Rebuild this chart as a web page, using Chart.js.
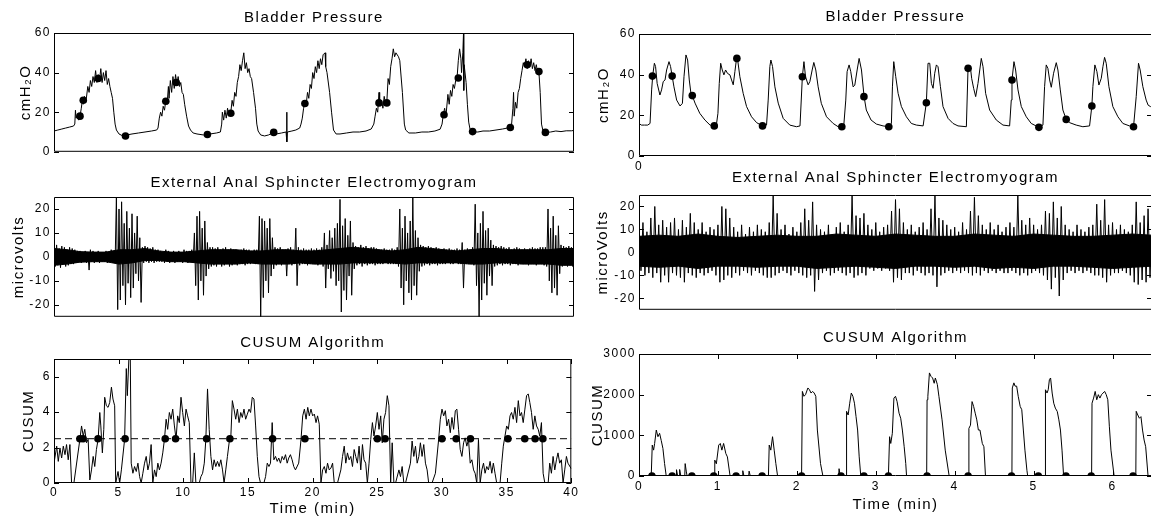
<!DOCTYPE html>
<html>
<head>
<meta charset="utf-8">
<script src="https://cdn.jsdelivr.net/npm/chart.js@4.4.1/dist/chart.umd.min.js"></script>
<style>
  html, body { margin: 0; padding: 0; background: #fff; overflow: hidden; width: 1151px; height: 518px; }
  canvas { position: absolute; }
</style>
</head>
<body>
<script>
// ---- left column: 40 min recording ----
const leftPressure = [[0,10.5],[0.3,11],[0.6,11.5],[0.9,12],[1.2,12.5],[1.5,13],[1.6,14],[1.65,21],[1.7,17],[1.8,19],[1.9,16],[2.0,18],[2.1,22],[2.2,27],[2.25,24],[2.35,28],[2.45,25],[2.6,33],[2.7,30],[2.8,36],[2.9,33],[3.0,38],[3.1,35],[3.2,41],[3.3,35],[3.4,39],[3.5,36],[3.6,42],[3.7,35],[3.8,40],[3.9,36],[4.0,41],[4.1,34],[4.2,37],[4.3,33],[4.4,30],[4.5,27],[4.6,20],[4.7,14],[4.8,11],[5.0,9],[5.3,8],[5.6,8.5],[6.0,9],[6.5,9.5],[7.0,10],[7.5,10.5],[7.9,11],[8.0,12],[8.1,17],[8.2,20],[8.3,18],[8.4,23],[8.5,21],[8.6,26],[8.7,24],[8.8,33],[8.85,27],[8.95,36],[9.05,30],[9.15,38],[9.25,32],[9.35,39],[9.45,34],[9.55,38],[9.65,33],[9.75,35],[9.85,30],[9.95,29],[10.05,24],[10.2,18],[10.35,13],[10.5,11],[10.7,9.5],[11.0,9],[11.5,8.5],[12.0,9],[12.5,9.5],[12.8,10],[12.9,14],[12.95,20],[13.05,16],[13.15,21],[13.25,17],[13.35,22],[13.45,18],[13.6,20],[13.7,26],[13.8,23],[13.9,30],[14.0,28],[14.1,35],[14.2,38],[14.3,44],[14.4,41],[14.5,46],[14.6,50],[14.7,42],[14.8,45],[14.9,40],[15.0,42],[15.1,38],[15.2,37],[15.35,30],[15.5,22],[15.6,14],[15.7,10.5],[15.9,8.5],[16.2,8],[16.5,8.5],[16.8,9.5],[17.1,9],[17.5,9.5],[17.85,10],[17.9,20],[17.92,5],[17.95,10],[18.3,10.5],[18.6,11],[18.9,12],[19.0,14],[19.1,17],[19.2,22],[19.3,25],[19.4,24],[19.5,30],[19.6,27],[19.7,34],[19.8,32],[19.9,40],[20.0,37],[20.1,43],[20.2,40],[20.3,46],[20.4,42],[20.5,47],[20.6,44],[20.7,49],[20.85,50],[20.9,43],[21.0,40],[21.2,30],[21.35,20],[21.5,11],[21.7,9],[22.0,9],[22.5,9.5],[23.0,10],[23.5,10],[24.0,10.5],[24.4,11.5],[24.6,14],[24.7,18],[24.8,22],[24.9,20],[25.0,30],[25.05,24],[25.2,26],[25.3,22],[25.4,28],[25.5,24],[25.6,25],[25.7,37],[25.8,34],[25.9,43],[26.0,47],[26.1,52],[26.2,48],[26.3,50],[26.5,48],[26.6,46],[26.8,30],[26.95,14],[27.05,11],[27.3,9.5],[27.8,9.5],[28.3,10],[28.8,10],[29.3,10.5],[29.7,11.4],[29.85,14],[29.95,19],[30.05,22],[30.15,18],[30.3,29],[30.4,24],[30.5,31],[30.6,28],[30.7,34],[30.8,32],[30.9,36],[31.0,37],[31.1,46],[31.2,52],[31.3,47],[31.35,40],[31.45,50],[31.5,60],[31.52,31],[31.55,44],[31.7,35],[31.8,24],[31.9,15],[32.0,11.5],[32.2,10],[32.6,10],[33.0,10.5],[33.5,10.5],[34.0,11],[34.5,11.5],[35.1,12.3],[35.2,14],[35.3,22],[35.35,30],[35.4,18],[35.5,25],[35.6,22],[35.7,30],[35.8,32],[35.9,37],[36.0,41],[36.1,45],[36.2,43],[36.3,47],[36.4,42],[36.5,46],[36.6,43],[36.7,47],[36.8,42],[36.9,45],[37.0,41],[37.1,44],[37.2,40],[37.3,40.5],[37.4,30],[37.5,14],[37.6,11],[37.8,9.8],[38.2,10],[38.6,10.5],[39.0,10.2],[39.4,10.6],[39.8,10.6],[40,10.8]];
const leftPressureMarks = [[2.0,18],[2.25,26],[3.4,37],[5.5,8],[8.6,25.5],[9.4,35],[11.8,8.7],[13.6,19.5],[16.9,9.8],[19.3,24.4],[25.0,24.7],[25.6,24.7],[30.0,18.7],[31.1,37.3],[32.2,10.2],[35.1,12.3],[36.4,44],[37.3,40.5],[37.8,9.8]];

// EMG: solid baseline band (1 min bins) and spike envelope (0.2 min bins)
const emgLeftCoreStep = 1;
const emgLeftCoreHi = [3.5,3,2.2,2,2,3,3,3.5,2.5,2,2,2.5,3,3,3,2.5,2.5,3,3,2.5,2.5,3,3.5,4,3.5,3,2.5,3,4,3.5,3,2.5,3,3.5,3.5,3,3,3,3,3.5,3.5];
const emgLeftCoreLo = [-3.5,-3,-2.2,-2,-2,-3,-2.5,-1.5,-1.5,-2,-2,-2.5,-3,-3,-3,-2.5,-3,-3,-3,-2.5,-3,-3,-3,-2.5,-2.5,-2.5,-2.5,-3,-2.5,-2.5,-2.5,-2.5,-3,-3,-2.5,-2.5,-3,-3,-3,-3.5,-3.5];
const emgLeftStep = 0.2;
const emgLeftHi = [4,5,3.5,4.5,4,3,4,3.5, 3,2.5,2.5,2,2.5,2,3,2.5,2,2.5,2,2,2.5,2,3,2.5, 25, 20,23,14,19,12,18,10,17, 8, 4,4.5,4,3.5,4,3,3, 2.5,2,3,2.5,2,2.5,2,2.5,2,3,2.5,2.5, 3, 10,17,19,12,15,6, 4,4,3.5,4,3,3.5,4,3,3.5,3,3,2.5,3,3.5,3, 3,2.5,3,3, 17,16,15,12,16,8, 4,3.5,4,3, 3, 3.5,4,3, 12, 4,3,3.5,3,3,3.5, 3,3.5,3,4, 10,5,11,8,12,14,24,13,16,9,15,6, 4.5,4,5,4,4.5,3.5,4,4,3.5,3, 3,3.5,3,3,3.5,3,4, 20,12,17,10,15,25,11,8, 5,4.5,4,4.5,4,3.5,4,3.5,3,3.5,3,3.5,3,3,3.5, 3,6,3,3.5,3,4, 22,10,14,19,11,12,7, 5,4.5,4,4.5,4,3.5,4,3,3.5,4,3.5,3,3.5,3,3.5,4,3.5,3.5,4,4, 4, 20,12,17,9,13, 5,4.5,4,4.5,4,4];
const emgLeftLo = [-4,-3.5,-4.5,-3,-4,-3.5,-3,-3, -2.5,-2,-2.5,-2,-2.5,-5.5,-2,-2.5,-2,-2.5,-2,-2,-2.5,-2,-2.5,-2.5, -22, -18,-12,-20,-11,-17,-13,-7,-10, -19, -2.5,-2,-2.5,-2,-2.5,-2,-2, -2,-2.5,-2,-2.5,-2,-2.5,-2,-2,-2.5,-2,-2.5,-2, -2.5, -12,-18,-10,-16,-8,-5, -4,-3.5,-4,-3,-4,-3.5,-3,-4,-3.5,-3,-3.5,-3,-3,-3.5,-3, -3,-2.5,-3,-3, -25,-17,-10,-15,-8,-5, -3.5,-3,-3.5,-3, -8, -3,-3.5,-3, -12, -3.5,-3,-3,-3.5,-3,-3, -3,-3.5,-3,-4, -13,-5,-9,-6,-12,-10,-23,-14,-18,-8,-16,-5, -3.5,-3,-4,-3,-3.5,-3,-3,-3.5,-3,-3, -3,-2.5,-3,-3,-3,-3,-4, -13,-20,-10,-15,-18,-12,-16,-6, -4,-3.5,-3,-3.5,-3,-3,-3.5,-3,-3,-3,-2.5,-3,-3,-2.5,-3, -3,-13,-3,-3,-3,-3.5, -12,-25,-18,-11,-16,-8,-12, -4,-3.5,-3,-3.5,-3,-3,-3.5,-3,-3,-3.5,-3,-3,-3,-3.5,-3,-3,-3.5,-3,-3,-3.5, -4, -10,-15,-13,-16,-7, -4,-3.5,-4,-3.5,-4,-3.5];

const leftCusum = [[0,1.12],[0.21,2.08],[0.33,1.22],[0.46,1.98],[0.59,1.41],[0.72,2.08],[0.85,1.6],[0.97,2.17],[1.10,1.31],[1.23,2.17],[1.36,0],[1.54,0],[2.0,2.46],[2.13,3.22],[2.26,2.65],[2.38,3.03],[2.51,2.27],[2.64,2.46],[2.77,0.17],[2.9,0.74],[3.03,1.5],[3.15,0.93],[3.28,1.89],[3.41,2.46],[3.54,3.98],[3.62,3.22],[3.74,1.7],[3.85,3.03],[3.92,4.84],[4.05,4.36],[4.18,4.27],[4.31,4.55],[4.44,5.41],[4.56,4.74],[4.69,4.36],[4.77,0],[4.95,0.65],[5.08,0],[5.21,0.74],[5.46,2.46],[5.59,6.46],[5.67,4.93],[5.79,7.03],[5.9,7.03],[5.97,1.12],[6.1,0.55],[6.23,0.93],[6.36,0.65],[6.49,1.12],[6.62,0.36],[6.74,0],[6.87,0.55],[7.0,1.12],[7.13,1.5],[7.26,0.74],[7.38,1.12],[7.51,2.17],[7.64,0],[7.77,0.74],[7.9,0.36],[8.03,1.12],[8.15,0.74],[8.28,1.12],[8.41,1.7],[8.54,2.46],[8.67,3.6],[8.79,3.03],[8.92,3.98],[9.05,3.6],[9.18,4.17],[9.31,3.22],[9.44,2.46],[9.56,3.79],[9.69,3.41],[9.82,4.84],[9.95,3.98],[10.08,3.22],[10.21,4.17],[10.33,3.79],[10.46,3.41],[10.59,0],[10.72,0],[10.85,1.7],[10.97,0],[11.23,0],[11.36,0.36],[11.49,0.55],[11.62,1.12],[11.74,2.46],[11.87,5.31],[12.0,3.03],[12.13,1.5],[12.26,0.74],[12.38,1.31],[12.51,0.93],[12.64,1.22],[12.77,0.93],[12.9,1.31],[13.03,0.74],[13.15,0],[13.28,0.74],[13.41,1.5],[13.54,2.27],[13.67,2.55],[13.79,4.65],[13.92,4.17],[14.05,3.6],[14.18,4.17],[14.31,3.41],[14.44,3.98],[14.56,3.7],[14.69,4.17],[14.82,3.6],[14.95,3.89],[15.08,4.17],[15.2,3.98],[15.33,4.84],[15.46,4.74],[15.59,3.22],[15.72,1.5],[15.85,0.36],[15.97,0],[16.23,0],[16.36,0.36],[16.49,1.12],[16.62,0.93],[16.74,1.12],[16.87,3.41],[17.0,1.31],[17.13,1.5],[17.26,1.22],[17.38,1.41],[17.51,1.12],[17.64,1.5],[17.77,1.31],[17.9,1.6],[18.03,1.12],[18.15,1.41],[18.28,1.6],[18.41,1.31],[18.54,0.93],[18.67,0.74],[18.92,1.12],[19.1,2.46],[19.23,3.79],[19.36,4.17],[19.49,3.6],[19.62,4.27],[19.74,3.79],[19.87,4.17],[20.0,3.79],[20.13,3.89],[20.26,3.41],[20.38,3.79],[20.51,3.32],[20.64,0],[20.77,0.74],[20.9,0.93],[21.03,0.55],[21.15,1.12],[21.28,0.74],[21.41,0.84],[21.54,1.12],[21.67,0],[21.92,0],[22.18,0.74],[22.31,1.5],[22.44,2.08],[22.56,1.12],[22.69,1.7],[22.82,1.31],[22.95,1.5],[23.08,0.93],[23.21,1.89],[23.33,1.5],[23.46,1.12],[23.59,2.08],[23.72,0.74],[23.85,2.17],[23.97,1.31],[24.1,1.12],[24.23,0],[24.36,1.12],[24.49,2.46],[24.62,3.41],[24.74,2.65],[24.87,3.22],[25.0,3.98],[25.13,3.03],[25.26,3.79],[25.38,2.27],[25.51,3.6],[25.64,3.98],[25.77,4.93],[25.9,4.36],[26.03,0],[26.15,2.27],[26.28,0],[26.41,0],[26.67,0.74],[26.79,0.36],[26.92,0.93],[27.05,0],[27.18,0],[27.56,1.12],[27.69,2.37],[27.82,1.5],[27.95,2.08],[28.08,1.12],[28.21,1.5],[28.33,2.27],[28.46,1.5],[28.59,2.17],[28.72,1.12],[28.85,0.74],[28.97,0],[29.23,0],[29.49,0.55],[29.74,2.46],[29.87,3.6],[30.0,4.17],[30.13,3.79],[30.26,4.08],[30.38,3.22],[30.51,3.6],[30.64,2.84],[30.77,3.7],[30.9,3.03],[31.03,4.08],[31.15,4.17],[31.28,3.03],[31.41,1.89],[31.54,1.5],[31.67,2.27],[31.79,2.55],[31.92,2.08],[32.05,2.46],[32.18,1.12],[32.31,1.31],[32.44,0.74],[32.56,0.55],[32.69,0],[32.82,2.46],[32.95,0],[33.08,0.74],[33.21,1.12],[33.33,0.55],[33.46,0.93],[33.59,0.74],[33.72,1.22],[33.85,0.55],[33.97,1.12],[34.1,0.55],[34.23,0],[34.49,0],[34.62,1.12],[34.74,2.08],[34.87,2.65],[35.0,3.22],[35.13,3.03],[35.26,3.79],[35.38,3.98],[35.51,3.6],[35.64,4.27],[35.77,3.41],[35.9,4.65],[36.03,3.79],[36.15,3.98],[36.28,3.41],[36.41,4.17],[36.54,4.93],[36.67,5.03],[36.79,4.55],[36.92,3.98],[37.05,3.03],[37.18,3.79],[37.31,3.22],[37.44,3.03],[37.56,2.65],[37.69,3.41],[37.82,0.55],[37.95,0],[38.21,0],[38.33,1.12],[38.46,0.55],[38.59,1.5],[38.72,0.74],[38.85,1.31],[38.97,1.7],[39.1,1.12],[39.23,1.31],[39.36,0],[39.49,0.74],[39.62,1.5],[39.74,1.12],[40,0.8]];
const leftCusumMarkT = [2.0, 2.25, 3.4, 5.5, 8.6, 9.4, 11.8, 13.6, 16.9, 19.4, 25.0, 25.6, 30.0, 31.1, 32.2, 35.1, 36.4, 37.2, 37.8];
const cusumThreshold = 2.5;

// ---- right column: 6.5 min recording ----
const rightPressure = [[0,16],[0.03,15.2],[0.07,15.2],[0.11,15.2],[0.14,16],[0.16,32.5],[0.175,40],[0.195,45.6],[0.21,44],[0.23,35.7],[0.265,30],[0.286,32.5],[0.307,36.6],[0.33,37.4],[0.35,42.3],[0.38,46.4],[0.40,44],[0.42,39.3],[0.443,34],[0.477,27.5],[0.52,24.6],[0.55,25.9],[0.57,39],[0.595,49.7],[0.616,47.2],[0.637,37.4],[0.658,30.8],[0.675,29.7],[0.71,26],[0.77,21],[0.835,17.7],[0.9,15.2],[0.954,14.8],[0.98,15.2],[1.0,21],[1.017,35.7],[1.035,45.6],[1.055,42.3],[1.076,39.9],[1.097,42.3],[1.122,40.6],[1.152,39.9],[1.173,37.4],[1.194,35],[1.215,41.5],[1.236,48],[1.245,48.8],[1.278,39],[1.32,30.8],[1.363,24.3],[1.426,19.3],[1.49,16.4],[1.565,14.8],[1.616,15.2],[1.637,27.5],[1.658,44],[1.671,47.2],[1.692,44],[1.722,34],[1.764,26],[1.827,18.5],[1.911,15.2],[1.996,14.4],[2.04,14.8],[2.07,39],[2.09,46.4],[2.11,39],[2.143,35],[2.165,36.6],[2.194,42.3],[2.215,46],[2.24,42.3],[2.27,34],[2.31,25.9],[2.376,19.3],[2.46,16],[2.523,14.4],[2.565,14.4],[2.595,15.2],[2.62,27.5],[2.637,41.5],[2.662,44.8],[2.683,41.5],[2.713,34],[2.734,34.8],[2.764,42.3],[2.789,48],[2.819,42.3],[2.852,29.2],[2.88,22.6],[2.94,17.7],[3.008,15.7],[3.093,14.8],[3.165,14.4],[3.198,16],[3.211,34],[3.228,46.4],[3.253,39],[3.283,30.8],[3.325,24.3],[3.388,19.3],[3.451,16],[3.515,15.2],[3.6,14.8],[3.641,26.2],[3.662,45.6],[3.684,45.6],[3.705,35.7],[3.726,33.3],[3.747,40.7],[3.768,44.8],[3.789,43.9],[3.819,34.1],[3.852,24.3],[3.916,18.5],[3.979,16],[4.042,14.8],[4.148,14.4],[4.169,43.1],[4.198,43.9],[4.215,38.2],[4.24,33.3],[4.266,29.2],[4.295,35.7],[4.337,48],[4.359,43.9],[4.392,30.8],[4.443,22.6],[4.527,17.7],[4.612,15.2],[4.696,14.8],[4.717,27.5],[4.726,37.4],[4.751,46.4],[4.772,42.3],[4.802,32.5],[4.844,24.3],[4.907,19.3],[4.97,16],[5.067,14.1],[5.118,15.2],[5.139,34.1],[5.16,44.8],[5.181,43.1],[5.203,37.4],[5.224,33.8],[5.253,40.7],[5.287,45.9],[5.308,42.3],[5.338,32.5],[5.371,22.6],[5.413,18],[5.456,16.4],[5.54,15.2],[5.624,14.4],[5.709,14.8],[5.738,24.6],[5.751,34.1],[5.776,44.8],[5.802,41.5],[5.827,34.9],[5.857,38.2],[5.878,43.9],[5.899,48.5],[5.92,45.6],[5.954,34.1],[6.004,24.3],[6.068,19.3],[6.131,16],[6.215,14.8],[6.266,14.4],[6.3,29.2],[6.329,45.6],[6.35,42.3],[6.384,34.1],[6.426,27.5],[6.451,25],[6.481,24.3],[6.5,24]];
const rightPressureMarks = [[0.17,39.3],[0.42,39.3],[0.675,29.7],[0.954,14.8],[1.24,48],[1.565,14.8],[2.07,39],[2.57,14.4],[2.85,29.2],[3.165,14.4],[3.641,26.2],[4.17,43.1],[4.726,37.4],[5.067,14.1],[5.413,18],[5.738,24.6],[6.266,14.4]];

// EMG: solid core band (0.25 min bins) and spike envelope (0.05 min bins)
const emgRightCoreStep = 0.25;
const emgRightCoreHi = [7,7.5,7,8,7,6.5,7,7.5,7,7,8,7.5,7,8,7.5,7,7,8,7.5,7,8,7.5,7,7,7.5,8,7.5];
const emgRightCoreLo = [-6,-6.5,-6,-7,-6,-6,-6.5,-6,-6,-7,-6.5,-6,-6.5,-7,-6,-6,-6.5,-6,-7,-6.5,-7,-6,-6,-6.5,-7,-6.5,-6];
const emgRightStep = 0.05;
const emgRightHi = [10,13,9,15,20,12,14, 11,13,15,10,14,11,17,13,10, 13,9,11,10,12, 20,19,15, 11,9,12,8,11,9,12,10,9, 13,25,17, 10,12,8,11,9,13, 19,14,22, 12,10,9,12,8,11,13,9,12, 25,16,15,17, 12,10,13,9,11,12, 18,23,19,13, 10,12,9,11,13,10, 19,25,15,14,12,10, 11,9,13,10, 18,24,16, 12,10,13,10,12,9,11,13,11, 25,14,12,15,12, 10,12, 18,17,22,15,20, 12,10,9,12,10,9,11,12, 21,14,23,12,13, 10,12,10,9,12, 22,13,16,19,12];
const emgRightLo = [-8,-10,-9,-11,-9,-13,-10, -13,-9,-10,-11,-13,-9,-10,-11,-9, -10,-9,-8,-10,-13, -12,-10,-11, -9,-10,-8,-9,-10,-8,-9,-10,-11, -11,-10,-9, -8,-9,-10,-8,-9,-10, -11,-10,-17, -12,-9,-8,-10,-9,-8,-9,-10,-9, -11,-10,-9,-10, -7,-8,-7,-8,-7,-8, -13,-11,-12,-9, -9,-10,-8,-9,-10,-9, -10,-15,-10,-9,-8,-9, -8,-9,-8,-9, -10,-9,-10, -8,-9,-8,-9,-8,-9,-9,-8,-9, -10,-9,-10,-9,-8, -9,-10, -12,-16,-11,-19,-12, -9,-8,-9,-8,-9,-8,-9,-10, -10,-11,-13,-10,-9, -9,-8,-9,-10,-13, -14,-12,-13,-11,-10];

const rightCusum = [[0,0],[0.155,0],[0.168,760],[0.185,636],[0.198,800],[0.219,1130],[0.24,966],[0.261,1050],[0.282,870],[0.303,677],[0.324,305],[0.345,0],[0.47,0],[0.475,155],[0.49,0],[0.51,0],[0.515,160],[0.53,0],[0.58,0],[0.585,305],[0.6,100],[0.61,0],[0.957,0],[0.96,390],[0.98,300],[1.01,760],[1.03,800],[1.05,636],[1.072,800],[1.1,553],[1.12,470],[1.154,0],[1.31,0],[1.315,130],[1.33,0],[1.39,0],[1.395,120],[1.41,0],[1.64,0],[1.65,760],[1.67,636],[1.692,966],[1.713,636],[1.734,305],[1.756,0],[2.06,0],[2.07,2080],[2.09,1960],[2.11,2000],[2.14,2165],[2.16,2120],[2.18,2040],[2.2,2080],[2.22,2040],[2.24,1960],[2.26,1130],[2.30,305],[2.33,0],[2.53,0],[2.535,180],[2.55,0],[2.625,0],[2.63,1590],[2.65,1500],[2.67,1790],[2.69,2040],[2.71,1960],[2.73,1790],[2.75,1460],[2.77,1130],[2.79,470],[2.81,0],[3.16,0],[3.175,966],[3.19,800],[3.21,1050],[3.23,1916],[3.25,1960],[3.27,1830],[3.295,1545],[3.316,1420],[3.337,1130],[3.36,720],[3.38,305],[3.39,0],[3.645,0],[3.65,1875],[3.66,1960],[3.68,2535],[3.70,2450],[3.72,2410],[3.74,2280],[3.755,2410],[3.78,2250],[3.80,1960],[3.84,1380],[3.88,636],[3.93,0],[4.175,0],[4.18,1170],[4.2,1250],[4.22,1830],[4.24,1710],[4.26,1545],[4.28,1380],[4.30,1130],[4.32,1130],[4.35,800],[4.37,720],[4.39,0],[4.725,0],[4.73,2165],[4.75,2290],[4.765,2210],[4.785,2210],[4.805,1960],[4.83,1710],[4.85,1630],[4.87,1130],[4.89,636],[4.915,140],[4.925,0],[5.145,0],[5.15,2120],[5.17,2040],[5.185,2120],[5.2,2370],[5.215,2410],[5.235,2040],[5.255,1790],[5.275,1670],[5.3,1585],[5.32,1380],[5.34,1130],[5.36,636],[5.38,0],[5.735,0],[5.74,1790],[5.76,1916],[5.78,2080],[5.80,1875],[5.82,2000],[5.84,1916],[5.86,2000],[5.88,2040],[5.90,2080],[5.92,2000],[5.94,1875],[5.96,1210],[5.98,636],[6.02,0],[6.295,0],[6.3,1590],[6.32,1500],[6.34,1420],[6.36,1460],[6.38,1130],[6.40,885],[6.42,720],[6.45,0],[6.5,0]];
const rightCusumMarkT = [0.164, 0.42, 0.67, 0.947, 1.23, 1.56, 2.06, 2.56, 2.85, 3.16, 3.65, 4.17, 4.72, 5.06, 5.41, 5.73, 6.26];

// tick labels
const pressureTicks = [0, 20, 40, 60];
const emgTicks = [-20, -10, 0, 10, 20];
const leftCusumTicks = [0, 2, 4, 6];
const leftTimeTicks = [0, 5, 10, 15, 20, 25, 30, 35, 40];
const rightCusumTicks = [0, 1000, 2000, 3000];
const rightTimeTicks = [0, 1, 2, 3, 4, 5, 6];

Chart.defaults.font.family = '"Liberation Sans", Arial, Helvetica, sans-serif';
Chart.defaults.color = '#000';

// matlab style box with inward tick marks
const boxPlugin = {
  id: 'box',
  beforeDraw(chart) { chart.ctx.letterSpacing = '1.5px'; },
  afterDatasetsDraw(chart, args, opts) {
    const {ctx, chartArea: a, scales} = chart;
    const tl = 5;
    ctx.save();
    ctx.strokeStyle = '#000';
    ctx.lineWidth = 1;
    ctx.beginPath();
    ctx.rect(a.left + 0.5, a.top + 0.5, a.right - a.left - 1, a.bottom - a.top - 1);
    scales.y.ticks.forEach(t => {
      const p = Math.round(scales.y.getPixelForValue(t.value)) + 0.5;
      ctx.moveTo(a.left, p); ctx.lineTo(a.left + tl, p);
      ctx.moveTo(a.right, p); ctx.lineTo(a.right - tl, p);
    });
    if (opts.xTicks) {
      scales.x.ticks.forEach(t => {
        const p = Math.round(scales.x.getPixelForValue(t.value)) + 0.5;
        ctx.moveTo(p, a.top); ctx.lineTo(p, a.top + tl);
        ctx.moveTo(p, a.bottom); ctx.lineTo(p, a.bottom - tl);
      });
    }
    ctx.stroke();
    ctx.restore();
  }
};

const pts = arr => arr.map(([x, y]) => ({x, y}));
const lineDs = (data, extra) => Object.assign({data, borderColor: '#000', borderWidth: 1, pointRadius: 0,
  tension: 0, borderJoinStyle: 'bevel', fill: false}, extra || {});
const dotDs = data => ({data, showLine: false, pointRadius: 3.8, pointBackgroundColor: '#000',
  pointBorderWidth: 0, borderColor: '#000'});
function zigzag(hi, lo, step) {
  const out = [];
  hi.forEach((h, i) => {
    out.push({x: i * step, y: h});
    out.push({x: i * step + step / 2, y: lo[i]});
  });
  return out;
}
function band(vals, step) {
  return vals.map((v, i) => ({x: i * step, y: v}));
}

function makePanel(p) {
  const cv = document.createElement('canvas');
  cv.width = p.w; cv.height = p.h;
  cv.style.left = p.left + 'px'; cv.style.top = p.top + 'px';
  cv.style.width = p.w + 'px'; cv.style.height = p.h + 'px';
  document.body.appendChild(cv);
  const titleBox = p.area.t - p.top;
  const titlePad = p.titleY - p.top - 9;
  const xh = p.top + p.h - p.area.b;
  const xAxis = !!p.xTicks;
  new Chart(cv, {
    type: 'line',
    data: {datasets: p.datasets},
    options: {
      responsive: false, animation: false, events: [],
      layout: {autoPadding: false, padding: {left: 0, top: 0, right: p.left + p.w - p.area.r, bottom: xAxis ? 0 : xh}},
      plugins: {
        legend: {display: false}, tooltip: {enabled: false},
        title: {display: true, text: p.title, fullSize: false, color: '#000',
          font: {size: 15, weight: 'normal'}, padding: {top: titlePad, bottom: titleBox - titlePad - 18}},
        box: {xTicks: !!p.xMarks}
      },
      scales: {
        x: {
          type: 'linear', min: p.xRange[0], max: p.xRange[1], display: xAxis,
          afterBuildTicks: s => { s.ticks = (p.xTicks || []).map(v => ({value: v})); },
          afterFit: s => { if (xAxis) s.height = xh; },
          grid: {display: false, drawTicks: false}, border: {display: false},
          ticks: {padding: p.xPad || 3, font: {size: 12}, maxRotation: 0, autoSkip: false, color: '#000',
            callback: v => String(v)},
          title: {display: !!p.xTitle, text: p.xTitle, color: '#000', font: {size: 15},
            padding: {top: 0, bottom: p.xTitlePad || 0}}
        },
        y: {
          type: 'linear', min: p.yRange[0], max: p.yRange[1],
          afterBuildTicks: s => { s.ticks = p.yTicks.map(v => ({value: v})); },
          afterFit: s => { s.width = p.area.l - p.left; },
          grid: {display: false, drawTicks: false}, border: {display: false},
          ticks: {padding: 3, font: {size: 12}, color: '#000', callback: v => String(v)},
          title: {display: true, text: p.yTitle, color: '#000', font: {size: 15},
            padding: {top: p.yTitleX - p.left - 9, bottom: 0}}
        }
      }
    },
    plugins: [boxPlugin]
  });
}

// left column
makePanel({left: 0, top: 0, w: 580, h: 162, area: {l: 54, r: 574, t: 33, b: 157},
  title: 'Bladder Pressure', titleY: 17.5, yTitle: 'cmH\u2082O', yTitleX: 25.5,
  xRange: [0, 40], yRange: [0, 60], yTicks: pressureTicks,
  datasets: [dotDs(pts(leftPressureMarks)), lineDs(pts(leftPressure))]});

makePanel({left: 0, top: 162, w: 580, h: 165, area: {l: 54, r: 574, t: 197, b: 320},
  title: 'External Anal Sphincter Electromyogram', titleY: 182.5, yTitle: 'microvolts', yTitleX: 19,
  xRange: [0, 40], yRange: [-25, 25], yTicks: emgTicks,
  datasets: [
    lineDs(zigzag(emgLeftHi, emgLeftLo, emgLeftStep)),
    lineDs(band(emgLeftCoreHi, emgLeftCoreStep), {fill: '+1', backgroundColor: '#000'}),
    lineDs(band(emgLeftCoreLo, emgLeftCoreStep))
  ]});

makePanel({left: 0, top: 330, w: 580, h: 188, area: {l: 54, r: 574, t: 359, b: 483},
  title: 'CUSUM Algorithm', titleY: 342.5, yTitle: 'CUSUM', yTitleX: 29,
  xRange: [0, 40], yRange: [0, 7], yTicks: leftCusumTicks,
  xTicks: leftTimeTicks, xMarks: true, xTitle: 'Time (min)', xPad: 2, xTitlePad: 0,
  datasets: [
    dotDs(leftCusumMarkT.map(t => ({x: t, y: cusumThreshold}))),
    lineDs([{x: 0, y: cusumThreshold}, {x: 40, y: cusumThreshold}], {borderDash: [7, 4]}),
    lineDs(pts(leftCusum))
  ]});

// right column
makePanel({left: 590, top: 0, w: 565, h: 175, area: {l: 639, r: 1152, t: 34, b: 156},
  title: 'Bladder Pressure', titleY: 17, yTitle: 'cmH\u2082O', yTitleX: 604,
  xRange: [0, 6.5], yRange: [0, 60], yTicks: pressureTicks,
  xTicks: [0], xPad: 3,
  datasets: [dotDs(pts(rightPressureMarks)), lineDs(pts(rightPressure))]});

makePanel({left: 590, top: 160, w: 565, h: 160, area: {l: 639, r: 1152, t: 195, b: 316},
  title: 'External Anal Sphincter Electromyogram', titleY: 178, yTitle: 'microVolts', yTitleX: 603,
  xRange: [0, 6.5], yRange: [-25, 25], yTicks: emgTicks,
  datasets: [
    lineDs(zigzag(emgRightHi, emgRightLo, emgRightStep)),
    lineDs(band(emgRightCoreHi, emgRightCoreStep), {fill: '+1', backgroundColor: '#000'}),
    lineDs(band(emgRightCoreLo, emgRightCoreStep))
  ]});

makePanel({left: 590, top: 320, w: 565, h: 198, area: {l: 639, r: 1152, t: 354, b: 476},
  title: 'CUSUM Algorithm', titleY: 337.5, yTitle: 'CUSUM', yTitleX: 598,
  xRange: [0, 6.5], yRange: [0, 3000], yTicks: rightCusumTicks,
  xTicks: rightTimeTicks, xMarks: true, xTitle: 'Time (min)', xPad: 3, xTitlePad: 4.3,
  datasets: [dotDs(rightCusumMarkT.map(t => ({x: t, y: 0}))), lineDs(pts(rightCusum))]});
</script>
</body>
</html>
